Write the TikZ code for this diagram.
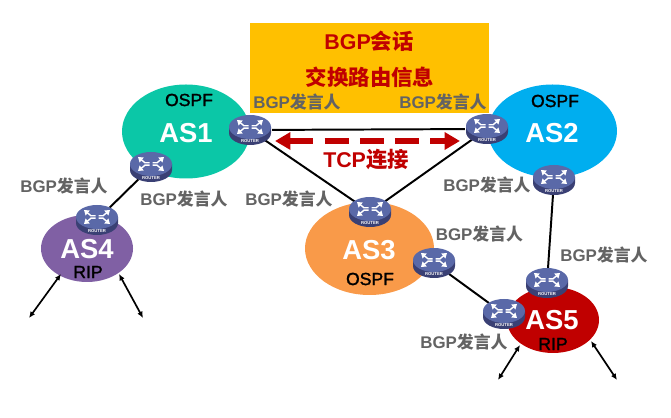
\documentclass[tikz,border=0pt]{standalone}
\usepackage{fontspec}
\setmainfont{Liberation Sans}
\newfontfamily\cjk{Noto Sans CJK SC}
\newfontfamily\protofont[FakeBold=1.5]{Liberation Sans}
\usetikzlibrary{arrows.meta,positioning,shapes.geometric}
\definecolor{BgpRed}{HTML}{C00000}
\definecolor{BgpGold}{HTML}{FFC000}
\definecolor{BgpGrey}{HTML}{636363}
\definecolor{AsTeal}{HTML}{0BC7A7}
\definecolor{AsBlue}{HTML}{00AEEF}
\definecolor{AsOrange}{HTML}{F99A49}
\definecolor{AsPurple}{HTML}{8060A4}
\definecolor{RouterTop}{HTML}{5A69A8}
\definecolor{RouterSide}{HTML}{3A4074}
\newcommand{\speakertext}{BGP{\cjk 发言人}}
\tikzset{
  as area/.style={ellipse, inner sep=0pt, draw=none},
  as name/.style={font=\bfseries\fontsize{19.5}{23}\selectfont, text=white, inner sep=0pt},
  as proto/.style={font=\protofont\fontsize{12.5}{15}\selectfont, text=black, inner sep=0pt},
  bgp label/.style={font=\bfseries\fontsize{12}{14}\selectfont, text=BgpGrey, inner sep=0pt},
  bgp title/.style={font=\bfseries\fontsize{15.2}{18}\selectfont, text=BgpRed, inner sep=0pt},
  router spot/.style={ellipse, minimum width=31pt, minimum height=21pt, inner sep=0pt},
  bgp link/.style={draw=black, line width=1.4pt},
  tcp link/.style={draw=BgpRed, line width=4.4pt, dash pattern=on 17pt off 8pt,
    {Triangle[length=11pt,width=12pt]}-{Triangle[length=11pt,width=12pt]}},
  outer link/.style={draw=black, line width=1.2pt,
    {Latex[length=4.5pt,width=4pt]}-{Latex[length=4.5pt,width=4pt]}},
  router mark/.style={draw=white, line width=1pt, -{Triangle[length=3.4pt,width=4.4pt]}},
  router/.pic={
    \fill[RouterSide] (-21,-3) -- (-21,3) arc[start angle=180, end angle=0, x radius=21, y radius=12] -- (21,-3) -- cycle;
    \fill[RouterTop] (0,-3) ellipse [x radius=21, y radius=12];
    \foreach \sx/\sy in {1/1,-1/1,1/-1,-1/-1}{
      \begin{scope}[shift={(0,-3)}, xscale=\sx, yscale=\sy]
        \draw[router mark] (1.5,1.2) -- (6,1.2) -- (13,7);
      \end{scope}
    }
    \node[font=\bfseries\fontsize{3}{3}\selectfont, text=white, inner sep=0pt] at (0,11.5) {ROUTER};
  },
}
\begin{document}
\begin{tikzpicture}[x=.025cm,y=-.025cm]
  \useasboundingbox (0,0) rectangle (671,418);

  % Autonomous systems first, everything else sits on top of them.
  \node[as area, fill=AsTeal, minimum width=128*.025cm, minimum height=94*.025cm] (areaOne) at (186,131.5) {};
  \node[as area, fill=AsBlue, minimum width=129*.025cm, minimum height=93*.025cm] (areaTwo) at (552.5,131) {};
  \node[as area, fill=AsOrange, minimum width=129*.025cm, minimum height=93*.025cm] (areaThree) at (369.5,248.5) {};
  \node[as area, fill=AsPurple, minimum width=92*.025cm, minimum height=67*.025cm] (areaFour) at (87,248.5) {};
  \node[as area, fill=BgpRed, minimum width=92*.025cm, minimum height=66*.025cm] (areaFive) at (553,320) {};

  \fill[BgpGold] (250,23) rectangle (489,113);
  \node[bgp title] (titleSession) at (369,41) {BGP{\cjk 会话}};
  \node[bgp title] (titleExchange) at (370,77) {\cjk 交换路由信息};

  \node[router spot] (routerOne) at (250,130) {};
  \node[router spot] (routerOneLow) at (151,167) {};
  \node[router spot] (routerTwo) at (487,129) {};
  \node[router spot] (routerTwoLow) at (554,180) {};
  \node[router spot] (routerThree) at (370,212) {};
  \node[router spot] (routerThreeSide) at (434,263) {};
  \node[router spot] (routerFour) at (97,220) {};
  \node[router spot] (routerFiveTop) at (547,283) {};
  \node[router spot] (routerFiveSide) at (504,314) {};

  % Links between the speakers, the router icons hide their ends.
  \draw[bgp link] (routerOne) -- (routerTwo);
  \draw[bgp link] (routerOne) -- (routerThree);
  \draw[bgp link] (routerTwo) -- (routerThree);
  \draw[bgp link] (routerOneLow) -- (routerFour);
  \draw[bgp link] (routerTwoLow) -- (routerFiveTop);
  \draw[bgp link] (routerThreeSide) -- (routerFiveSide);

  \coordinate (tcpLeft) at (275,141);
  \coordinate (tcpRight) at (460,141);
  \draw[tcp link] (tcpLeft) -- (tcpRight);
  \node[bgp title] (tcpText) at (366,159) {TCP{\cjk 连接}};

  % Free ends going out of the two RIP areas.
  \coordinate (fourLeftIn) at (61,274);
  \coordinate (fourLeftOut) at (29,318);
  \coordinate (fourRightIn) at (119,274);
  \coordinate (fourRightOut) at (143,318);
  \coordinate (fiveLeftIn) at (520,345);
  \coordinate (fiveLeftOut) at (498,380);
  \coordinate (fiveRightIn) at (591,341);
  \coordinate (fiveRightOut) at (617,380);
  \draw[outer link] (fourLeftIn) -- (fourLeftOut);
  \draw[outer link] (fourRightIn) -- (fourRightOut);
  \draw[outer link] (fiveLeftIn) -- (fiveLeftOut);
  \draw[outer link] (fiveRightIn) -- (fiveRightOut);

  \foreach \spot in {routerOne,routerOneLow,routerTwo,routerTwoLow,routerThree,routerThreeSide,routerFour,routerFiveTop,routerFiveSide}
    \pic at (\spot) {router};

  \node[as name] (nameOne) at (186,133) {AS1};
  \node[as name] (nameTwo) at (552,133) {AS2};
  \node[as name] (nameThree) at (369,250) {AS3};
  \node[as name] (nameFour) at (87,249) {AS4};
  \node[as name] (nameFive) at (552,320) {AS5};
  \node[as proto] (protoOne) at (189,100) {OSPF};
  \node[as proto] (protoTwo) at (555,101) {OSPF};
  \node[as proto] (protoThree) at (370,279) {OSPF};
  \node[as proto] (protoFour) at (88,272) {RIP};
  \node[as proto] (protoFive) at (553,344) {RIP};

  \node[bgp label] (speakerA) at (297,102) {\speakertext};
  \node[bgp label] (speakerB) at (443,102) {\speakertext};
  \node[bgp label] (speakerC) at (64,186) {\speakertext};
  \node[bgp label] (speakerD) at (184,199) {\speakertext};
  \node[bgp label] (speakerE) at (289,199) {\speakertext};
  \node[bgp label] (speakerF) at (487,185) {\speakertext};
  \node[bgp label] (speakerG) at (479.5,234) {\speakertext};
  \node[bgp label] (speakerH) at (604,255) {\speakertext};
  \node[bgp label] (speakerI) at (464,342) {\speakertext};
\end{tikzpicture}
\end{document}
